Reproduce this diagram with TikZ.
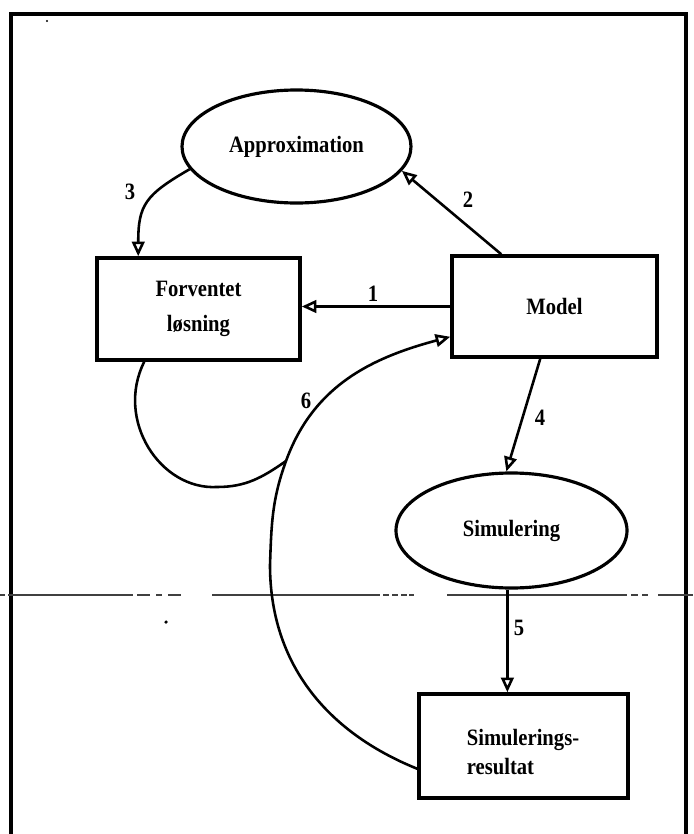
\documentclass[tikz,border=0pt]{standalone}
\usepackage{fontspec}
\setmainfont{Liberation Serif}[FakeStretch=0.88]
\usetikzlibrary{arrows.meta,shapes.geometric,calc}
\begin{document}
\begin{tikzpicture}[x=0.03cm,y=-0.03cm,
  box/.style={draw, line width=3pt, rectangle, inner sep=0pt, align=center},
  oval/.style={draw, line width=2.7pt, ellipse, inner sep=0pt},
  conn/.style={line width=2.2pt, -{Triangle[open,length=0.44cm,width=0.38cm]}},
  wire/.style={line width=2.2pt},
  txt/.style={font=\bfseries\fontsize{20}{30}\selectfont},
  txttwo/.style={font=\bfseries\fontsize{20}{24}\selectfont},
  lab/.style={font=\bfseries\fontsize{20}{24}\selectfont, inner sep=0pt},
  scan/.style={line width=1.2pt, black!75}]
\useasboundingbox (0,0) rectangle (693,834);
\fill[white] (0,0) rectangle (693,834);
% frame
\draw[line width=3pt] (11,834) -- (11,14) -- (686,14) -- (686,834);
% scan line
\foreach \a/\b in {0/5, 8/13, 13/133, 137/150, 156/162, 168/181, 212/380, 383/389, 392/398, 401/407, 409/414, 447/627, 631/638, 642/648, 658/693}
  \draw[scan] (\a,595) -- (\b,595);
\fill (166,622) circle[radius=1.5pt];
\fill (47,21) circle[radius=1pt];
% nodes
\node[box, txt, minimum width=6.09cm, minimum height=3.06cm] (fl) at (198.5,309) {Forventet\\løsning};
\node[box, txt, minimum width=6.15cm, minimum height=3.03cm] (model) at (554.5,306.5) {Model};
\node[box, minimum width=6.27cm, minimum height=3.12cm] (sr) at (523.5,746) {};
\node[txttwo, align=left, inner sep=0pt] (srt) at (523,752) {Simulerings-\\resultat};
\node[oval, txt, minimum width=6.87cm, minimum height=3.39cm] (approx) at (296.5,146.5) {Approximation};
\node[oval, txt, minimum width=6.93cm, minimum height=3.45cm] (sim) at (511.5,530.5) {Simulering};
% connectors
\draw[conn] (model.west) -- (model.west -| fl.east);
\draw[conn] ($(model.north west)+(51,0)$) -- (approx.-13.6);
\draw[conn] (approx.192.7) to[out=210,in=90,looseness=1.3] ($(fl.north west)+(43,0)$);
\draw[conn] ($(model.south west)+(90,0)$) -- (sim.95.5);
\draw[conn] (sim.266) -- (sim.266 |- sr.north);
\coordinate (c6a) at (270,565);
\coordinate (join) at (286,461);
\coordinate (lb) at (217,487);
\draw[conn] ($(sr.south west)+(0,-31)$) to[out=158,in=270] (c6a) to[out=88,in=250] (join) to[out=70,in=195] ($(model.south west)+(0,-22)$);
\draw[wire] ($(fl.south west)+(49,0)$) .. controls (115,420) and (160,490) .. (lb) to[out=0,in=215] (join);
% labels
\node[lab] (l1) at (373,294) {1};
\node[lab] (l2) at (468,200) {2};
\node[lab] (l3) at (130,192) {3};
\node[lab] (l4) at (540,418) {4};
\node[lab] (l5) at (519,628) {5};
\node[lab] (l6) at (306,401) {6};
\end{tikzpicture}
\end{document}
